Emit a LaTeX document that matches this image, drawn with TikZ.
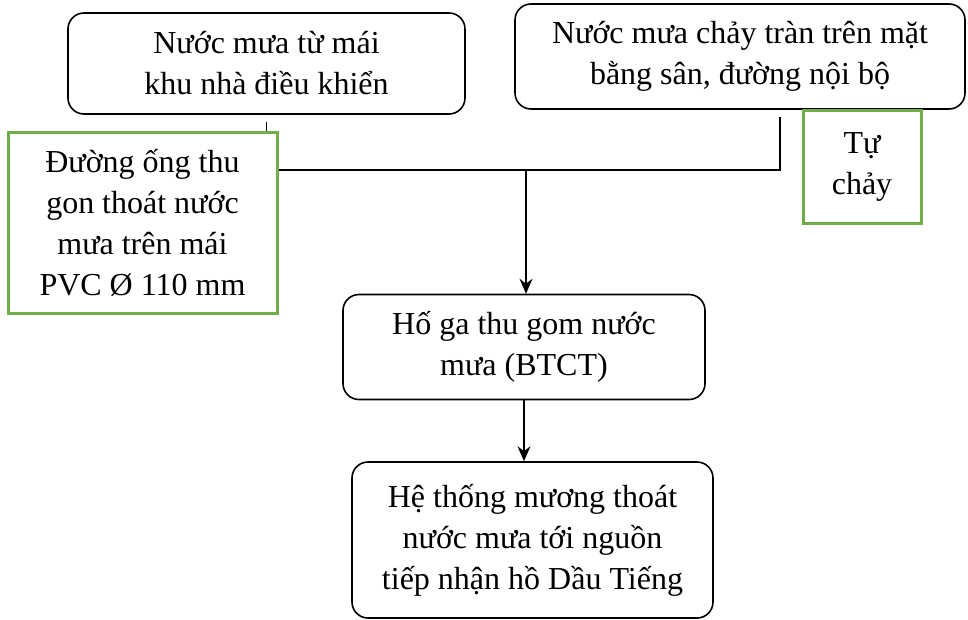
\documentclass[tikz,border=0pt]{standalone}
\usepackage{fontspec}
\setmainfont{Liberation Serif}
\usetikzlibrary{arrows.meta,positioning}
\definecolor{leafgreen}{RGB}{112,173,71}

\begin{document}
\begin{tikzpicture}[x=1pt,y=-1pt,>={Stealth[length=15pt,width=13pt,inset=5pt]},
	every node/.style={align=center,inner sep=0pt,font=\fontsize{32}{41}\selectfont},
	stage/.style={draw,line width=1.6pt,rounded corners=16pt,fill=white},
	note/.style={draw=leafgreen,line width=3pt,fill=white},
	wire/.style={line width=1.3pt}]
	\useasboundingbox (0,0) rectangle (968,619);
	\node[stage,minimum width=397pt,minimum height=101pt] (roof) at (266.5,63.5) {Nước mưa từ mái\\khu nhà điều khiển};
	\node[stage,minimum width=450pt,minimum height=105pt] (yard) at (740,56.5) {Nước mưa chảy tràn trên mặt\\bằng sân, đường nội bộ};
	\node[note,minimum width=269pt,minimum height=181pt] (pipe) at (142.5,222.5) {Đường ống thu\\gon thoát nước\\mưa trên mái\\PVC Ø 110 mm};
	\node[note,minimum width=118pt,minimum height=113pt] (flow) at (862,166.5) {Tự\\chảy};
	\node[stage,minimum width=362pt,minimum height=105pt] (pit) at (524,347) {Hố ga thu gom nước\\mưa (BTCT)};
	\node[stage,minimum width=361pt,minimum height=156pt] (ditch) at (532.5,540) {Hệ thống mương thoát\\nước mưa tới nguồn\\tiếp nhận hồ Dầu Tiếng};
	% connectors
	\coordinate (drop) at (780,117);
	\coordinate (bend) at (780,170);
	\coordinate (join) at (526,170);
	\draw[wire] ([yshift=-7pt]roof.south) -- (roof.south |- pipe.north);
	\draw[wire] (drop) -- (bend) -- (pipe.east |- bend);
	\draw[wire,->] (join) -- (join |- pit.north);
	\draw[wire,->] (pit.south) -- (pit.south |- ditch.north);
\end{tikzpicture}
\end{document}
